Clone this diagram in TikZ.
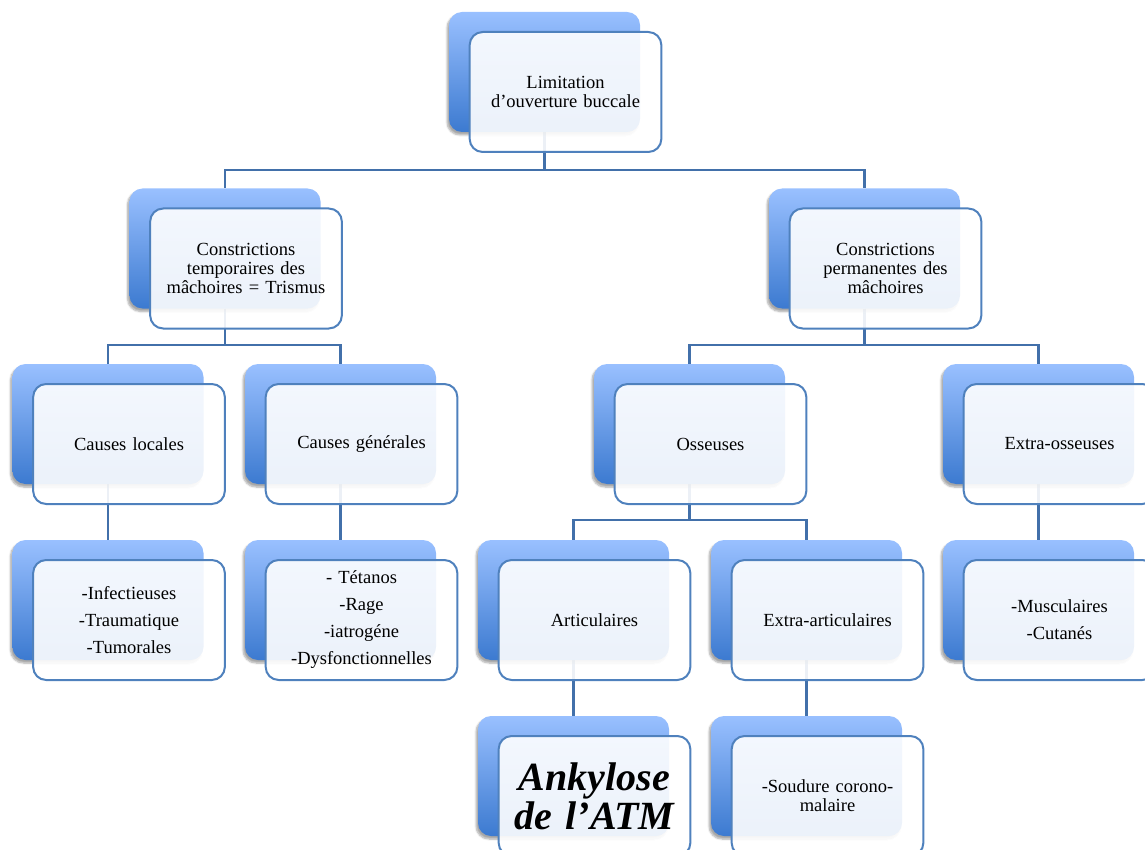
\documentclass[tikz,border=0pt]{standalone}
\usepackage{fontspec}
\setmainfont{Liberation Serif}
\usetikzlibrary{shadows.blur}
\definecolor{bluetop}{RGB}{153,192,255}
\definecolor{bluebot}{RGB}{60,122,208}
\definecolor{frameblue}{RGB}{79,129,189}
\definecolor{lineblue}{RGB}{66,112,170}
\pgfdeclarelayer{bg}
\pgfsetlayers{bg,main}
\tikzset{
  backbox/.style={rectangle, rounded corners=13pt, minimum width=191pt, minimum height=120pt,
    top color=bluetop, bottom color=bluebot, draw=none,
    blur shadow={shadow xshift=-2pt, shadow yshift=-3pt, shadow blur steps=6, shadow opacity=35}},
  frontbox/.style={rectangle, rounded corners=13pt, minimum width=191pt, minimum height=120pt,
    fill=white, fill opacity=0.9, text opacity=1, draw=frameblue, line width=2pt,
    align=center, text width=185pt, font=\fontsize{18.5}{19}\selectfont},
  listtext/.style={font=\fontsize{18.5}{27}\selectfont},
  bigtext/.style={font=\fontsize{40}{39}\selectfont\bfseries\itshape},
  plaintext/.style={},
  conn/.style={draw=lineblue, line width=2.2pt},
}
\newcommand{\mypair}[5]{%
  \node[backbox] (b#1) at (#2,#3) {};
  \node[frontbox,#4] (f#1) at (#2+21,#3+20) {#5};
}
\begin{document}
\begin{tikzpicture}[x=1pt,y=-1pt]
\useasboundingbox (0,0) rectangle (1145,850);
\mypair{top}{544.5}{72}{plaintext}{Limitation\\d’ouverture buccale}
\mypair{tmp}{225}{248.5}{plaintext}{Constrictions\\temporaires des\\mâchoires = Trismus}
\mypair{perm}{864.5}{248.5}{plaintext}{Constrictions\\permanentes des\\mâchoires}
\mypair{loc}{108}{424}{plaintext}{Causes locales}
\mypair{gen}{340.5}{424}{plaintext}{Causes générales}
\mypair{oss}{689.5}{424}{plaintext}{Osseuses}
\mypair{eos}{1038.5}{424}{plaintext}{Extra-osseuses}
\mypair{inf}{108}{600}{listtext}{-Infectieuses\\-Traumatique\\-Tumorales}
\mypair{tet}{340.5}{600}{listtext}{- Tétanos\\-Rage\\-iatrogéne\\-Dysfonctionnelles}
\mypair{art}{573.5}{600}{plaintext}{Articulaires}
\mypair{ear}{806.5}{600}{plaintext}{Extra-articulaires}
\mypair{mus}{1038.5}{600}{listtext}{-Musculaires\\-Cutanés}
\mypair{ank}{573.5}{776}{bigtext}{Ankylose\\de l’ATM}
\mypair{sou}{806.5}{776}{plaintext}{-Soudure corono-\\malaire}
\begin{pgfonlayer}{bg}
\draw[conn] (btop.south) -- (btop.south |- 0,170) -| (btmp.north);
\draw[conn] (btop.south |- 0,170) -| (bperm.north);
\draw[conn] (btmp.south) -- (btmp.south |- 0,345) -| (bloc.north);
\draw[conn] (btmp.south |- 0,345) -| (bgen.north);
\draw[conn] (bperm.south) -- (bperm.south |- 0,345) -| (boss.north);
\draw[conn] (bperm.south |- 0,345) -| (beos.north);
\draw[conn] (boss.south) -- (boss.south |- 0,520) -| (bart.north);
\draw[conn] (boss.south |- 0,520) -| (bear.north);
\draw[conn] (bloc.south) -- (binf.north);
\draw[conn] (bgen.south) -- (btet.north);
\draw[conn] (beos.south) -- (bmus.north);
\draw[conn] (bart.south) -- (bank.north);
\draw[conn] (bear.south) -- (bsou.north);
\end{pgfonlayer}
\end{tikzpicture}
\end{document}
